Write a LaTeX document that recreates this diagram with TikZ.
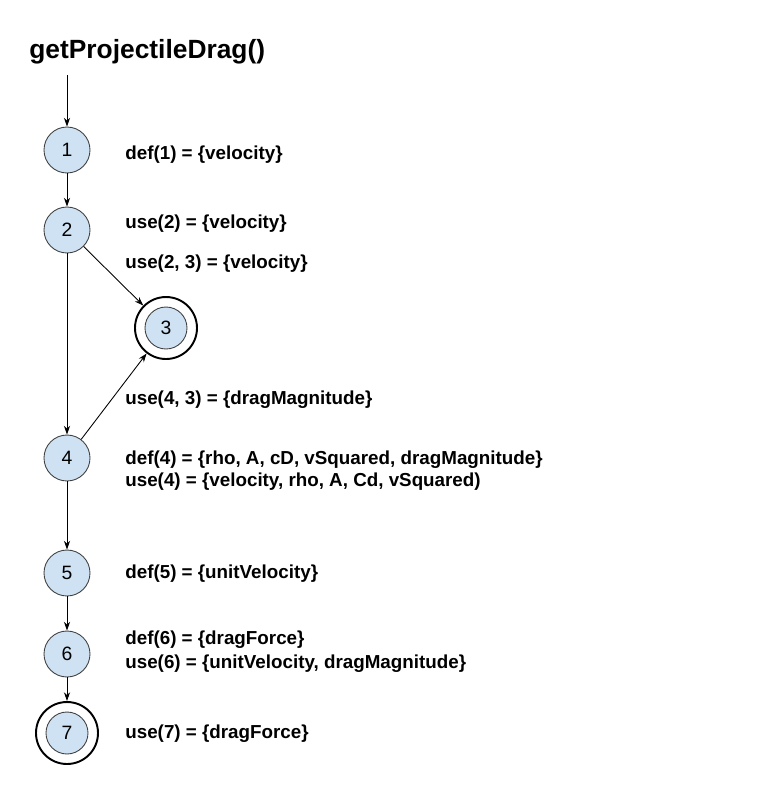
\documentclass[tikz,border=0pt]{standalone}
\usepackage{fontspec}
\setmainfont{Liberation Sans}
\usetikzlibrary{arrows.meta}
\definecolor{nodeblue}{HTML}{CFE2F3}

\begin{document}
\begin{tikzpicture}[x=0.02cm, y=-0.02cm,
    vertex/.style={circle, draw=black!75, fill=nodeblue, line width=0.5pt,
        minimum size=46*0.02cm, inner sep=0pt, font=\fontsize{11}{12}\selectfont},
    endvertex/.style={vertex, minimum size=42*0.02cm},
    ring/.style={circle, draw=black, line width=1.1pt, minimum size=62*0.02cm, inner sep=0pt},
    flow/.style={-{Stealth[length=5pt, width=3.5pt]}, line width=0.5pt},
    setlabel/.style={anchor=west, inner sep=0pt, font=\fontsize{10.7}{12}\selectfont\bfseries}]
    \useasboundingbox (0,0) rectangle (770,799);

    \node[anchor=west, inner sep=0pt, font=\fontsize{15}{18}\selectfont\bfseries] (title) at (29,52) {getProjectileDrag()};
    \coordinate (start) at (67,75);

    \node[vertex] (n1) at (67,150) {1};
    \node[vertex] (n2) at (67,230) {2};
    \node[ring] (n3o) at (166,328) {};
    \node[endvertex] (n3) at (166,328) {3};
    \node[vertex] (n4) at (67,458) {4};
    \node[vertex] (n5) at (67,573) {5};
    \node[vertex] (n6) at (67,654) {6};
    \node[ring] (n7o) at (67,733) {};
    \node[endvertex] (n7) at (67,733) {7};

    \draw[flow] (start) -- (n1);
    \draw[flow] (n1) -- (n2);
    \draw[flow] (n2) -- (n3o);
    \draw[flow] (n2) -- (n4);
    \draw[flow] (n4) -- (n3o);
    \draw[flow] (n4) -- (n5);
    \draw[flow] (n5) -- (n6);
    \draw[flow] (n6) -- (n7o);

    \node[setlabel] (def1) at (125,155) {def(1) = \{velocity\}};
    \node[setlabel] (use2) at (125,224) {use(2) = \{velocity\}};
    \node[setlabel] (use23) at (125,264) {use(2, 3) = \{velocity\}};
    \node[setlabel] (use43) at (125,400) {use(4, 3) = \{dragMagnitude\}};
    \node[setlabel] (def4) at (125,460) {def(4) = \{rho, A, cD, vSquared, dragMagnitude\}};
    \node[setlabel] (use4) at (125,482) {use(4) = \{velocity, rho, A, Cd, vSquared)};
    \node[setlabel] (def5) at (125,574) {def(5) = \{unitVelocity\}};
    \node[setlabel] (def6) at (125,640) {def(6) = \{dragForce\}};
    \node[setlabel] (use6) at (125,664) {use(6) = \{unitVelocity, dragMagnitude\}};
    \node[setlabel] (use7) at (125,734) {use(7) = \{dragForce\}};
\end{tikzpicture}
\end{document}
